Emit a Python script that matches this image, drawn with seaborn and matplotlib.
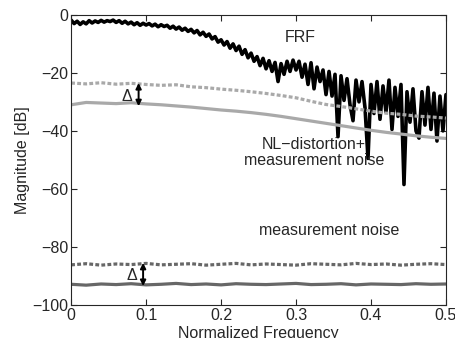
import numpy as np
import matplotlib
matplotlib.use("Agg")
import matplotlib.pyplot as plt
import seaborn as sns

# FRF magnitude [dB] (126 points on 0..0.5)
frf_db = [
    -1.8, -3.0, -2.2, -3.3, -2.4, -3.1, -2.0, -2.8, -2.1, -2.6, -1.9, -2.5, -2.0,
    -2.3, -1.8, -2.6, -2.0, -2.9, -2.2, -3.1, -2.5, -3.4, -2.7, -3.6, -2.9, -3.5,
    -3.0, -3.8, -3.2, -4.1, -3.4, -4.0, -3.6, -4.6, -3.9, -4.9, -4.2, -5.3,
    -4.6, -5.7, -5.0, -6.2, -5.4, -6.9, -6.0, -7.4, -6.6, -8.3, -7.5, -9.4, -8.6,
    -10.4, -9.2, -11.5, -10.0, -12.3, -10.8, -13.6, -12.0, -14.8, -13.2, -16.0, -14.4,
    -17.5, -15.0, -18.6, -15.8, -19.5, -16.4, -23.0, -16.8, -20.5, -16.0, -19.5, -15.6, -19.0,
    -16.0, -21.5, -17.0, -24.0, -16.5, -25.5, -18.0, -23.0, -19.0, -27.5, -19.5, -28.0,
    -20.5, -42.0, -21.0, -29.5, -22.0, -31.0, -36.5, -22.5, -30.0, -23.0, -32.0, -49.5, -24.0,
    -34.0, -23.0, -36.0, -24.5, -33.5, -22.5, -39.5, -25.0, -35.0, -24.0, -58.5, -26.5,
    -37.0, -25.5, -40.0, -42.5, -26.5, -38.0, -25.0, -39.5, -27.0, -43.5, -28.0, -40.0, -27.5,
]
frf_freq = np.linspace(0, 0.5, len(frf_db))

# NL-distortion + noise levels (26 points on 0..0.5)
nl_total_db = [-23.5, -23.8, -23.4, -23.9, -23.6, -24.0, -24.3, -24.1, -24.8, -25.1,
               -25.6, -26.0, -26.5, -27.1, -27.8, -28.6, -29.8, -30.9, -31.6, -32.4,
               -33.2, -33.9, -34.3, -34.9, -35.2, -35.6]
nl_noise_db = [-31.0, -30.2, -30.4, -30.6, -30.3, -30.7, -31.0, -31.4, -31.8, -32.3,
               -32.8, -33.2, -33.7, -34.3, -35.0, -35.8, -36.6, -37.4, -38.2, -39.0,
               -39.8, -40.5, -41.1, -41.7, -42.2, -42.6]
# measurement noise levels
mn_total_db = [-86.2, -85.8, -86.3, -85.9, -86.1, -85.7, -86.2, -86.0, -85.8, -86.3,
               -86.0, -85.7, -86.2, -85.9, -86.1, -86.3, -85.8, -86.0, -86.2, -85.7,
               -86.1, -85.9, -86.3, -86.0, -85.8, -86.1]
mn_noise_db = [-92.9, -93.2, -92.8, -93.0, -92.7, -93.1, -92.9, -92.6, -93.0, -92.8,
               -93.1, -92.7, -92.9, -93.0, -92.8, -92.6, -93.0, -92.9, -92.7, -93.1,
               -92.8, -92.9, -93.0, -92.7, -92.9, -92.8]
lvl_freq = np.linspace(0, 0.5, len(nl_total_db))

xticks = [0, 0.1, 0.2, 0.3, 0.4, 0.5]
xtick_labels = ["0", "0.1", "0.2", "0.3", "0.4", "0.5"]
yticks = [0, -20, -40, -60, -80, -100]

sns.set_style("ticks")
plt.rcParams['font.family'] = ['Liberation Sans', 'DejaVu Sans']
fs = 11.5

fig = plt.figure(figsize=(4.56, 3.38), dpi=100)
ax = fig.add_axes([0.156, 0.098, 0.822, 0.858])

light = '#a9a9a9'
dark = '#676767'
dots = (0, (1.2, 0.7))

sns.lineplot(x=frf_freq, y=frf_db, ax=ax, color='black', lw=2.6)
sns.lineplot(x=lvl_freq, y=nl_total_db, ax=ax, color=light, lw=2.3, linestyle=dots)
sns.lineplot(x=lvl_freq, y=nl_noise_db, ax=ax, color=light, lw=2.3)
sns.lineplot(x=lvl_freq, y=mn_total_db, ax=ax, color=dark, lw=2.3, linestyle=dots)
sns.lineplot(x=lvl_freq, y=mn_noise_db, ax=ax, color=dark, lw=2.3)

# delta arrows
arr = dict(arrowstyle='<|-|>', color='black', lw=1.4, mutation_scale=8,
           shrinkA=0, shrinkB=0)
ax.annotate('', xy=(0.09, -23.5), xytext=(0.09, -31.5), arrowprops=arr)
ax.text(0.081, -28, 'Δ', ha='right', va='center', fontsize=fs)
ax.annotate('', xy=(0.096, -85.5), xytext=(0.096, -93.5), arrowprops=arr)
ax.text(0.088, -90, 'Δ', ha='right', va='center', fontsize=fs)

ax.text(0.305, -7.8, 'FRF', ha='center', va='center', fontsize=fs)
ax.text(0.324, -47.4, 'NL\u2212distortion+\nmeasurement noise', ha='center',
        va='center', fontsize=fs, linespacing=1.05)
ax.text(0.344, -74.5, 'measurement noise', ha='center', va='center', fontsize=fs)

ax.set_xlim(0, 0.5)
ax.set_ylim(-100, 0)
ax.set_xticks(xticks)
ax.set_xticklabels(xtick_labels)
ax.set_yticks(yticks)
ax.tick_params(direction='in', length=4.5, width=0.8, top=True, right=True,
               labelsize=fs, pad=2)
for s in ax.spines.values():
    s.set_linewidth(0.8)
    s.set_visible(True)
ax.set_xlabel('Normalized Frequency', fontsize=fs, labelpad=2.5)
ax.set_ylabel('Magnitude [dB]', fontsize=fs, labelpad=2)

fig.savefig('out.png', dpi=100, facecolor='white')
